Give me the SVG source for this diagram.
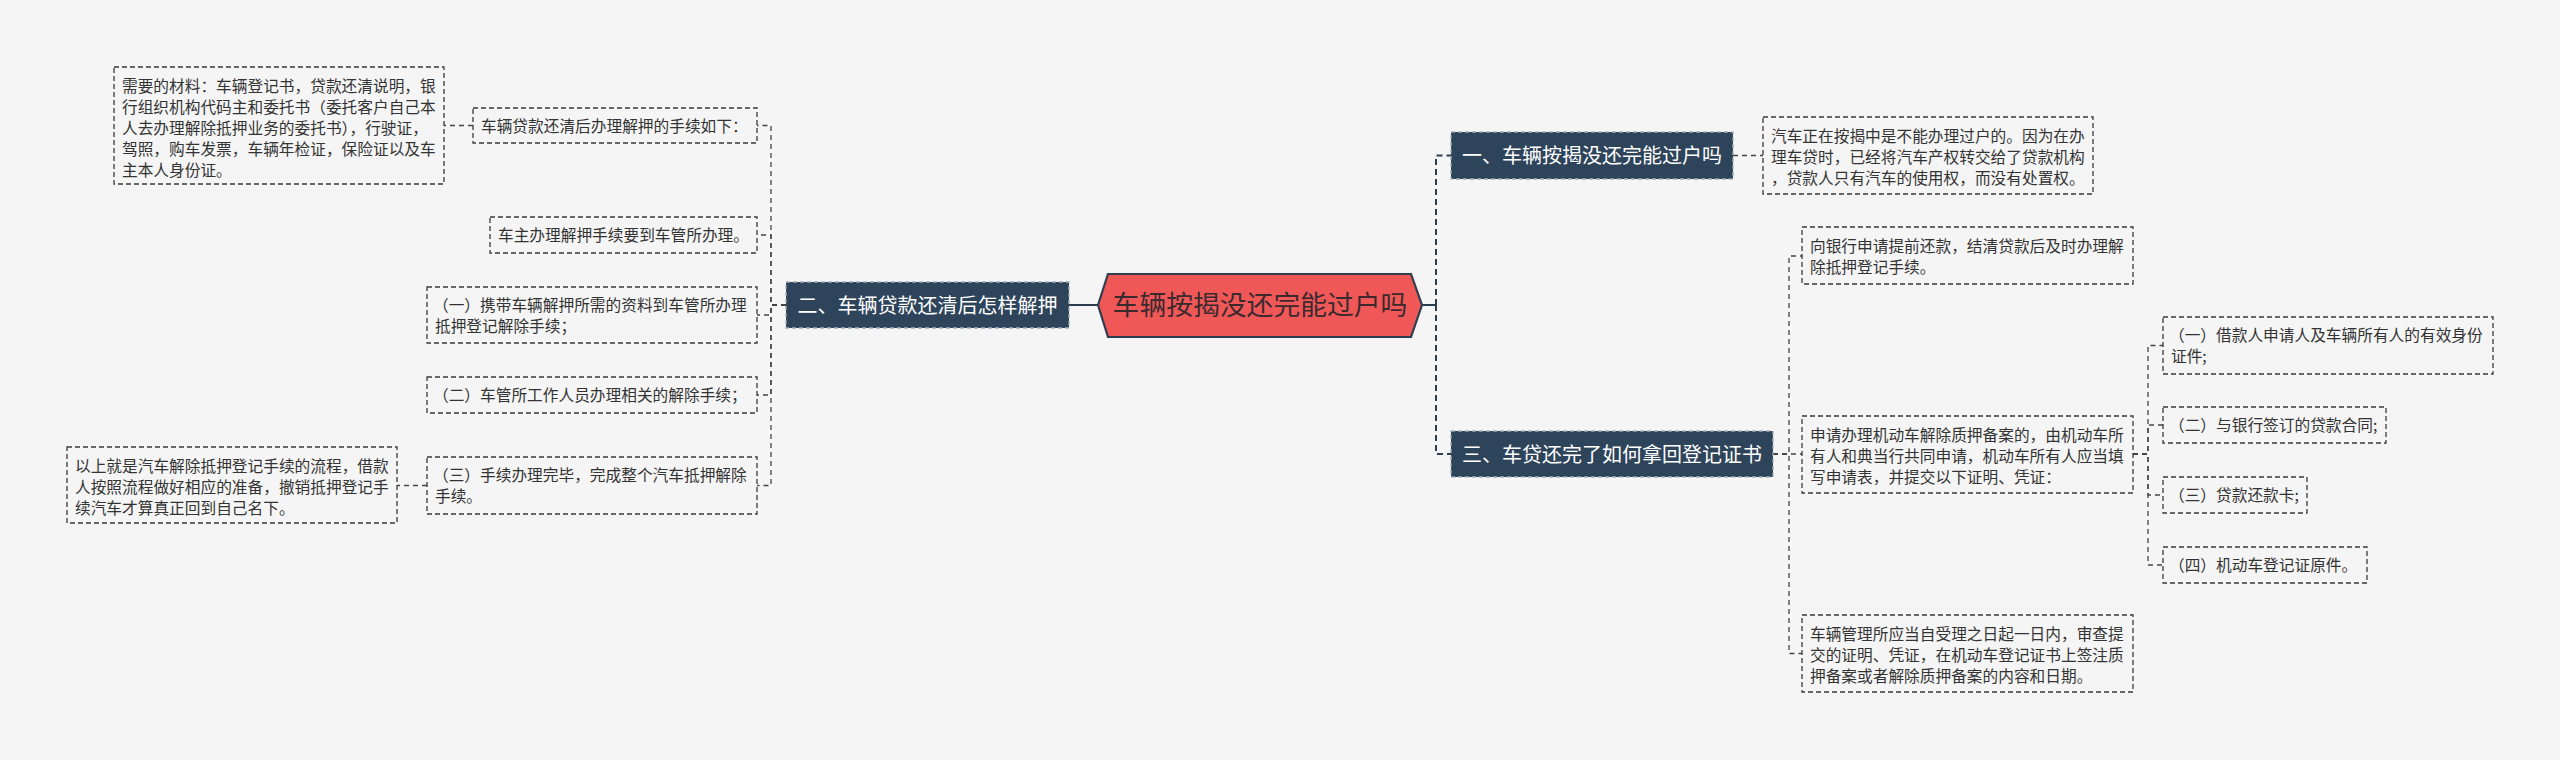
<svg xmlns="http://www.w3.org/2000/svg" width="2560" height="760" viewBox="0 0 2560 760">
<style>
.bg{fill:#f5f5f5}
.box{fill:#f5f5f5;stroke:#3a3a3a;stroke-width:1.3;stroke-dasharray:5,3}
.t{font-family:"Noto Sans CJK SC","Noto Sans",sans-serif;font-size:15.7px;fill:#333}
.l1{fill:#2e445b;stroke:#a3adb8;stroke-width:1.3;stroke-dasharray:4,3}
.l1t{font-family:"Noto Sans CJK SC","Noto Sans",sans-serif;font-size:20px;fill:#ffffff;text-anchor:middle}
.ct{font-family:"Noto Sans CJK SC","Noto Sans",sans-serif;font-size:26.8px;fill:#3a2a2e;text-anchor:middle}
.c2{fill:none;stroke:#444;stroke-width:1.3;stroke-dasharray:5,4}
.c1{fill:none;stroke:#2d3e50;stroke-width:2;stroke-dasharray:6,4}
.cs{fill:none;stroke:#2d3e50;stroke-width:2}
</style>
<rect class="bg" x="0" y="0" width="2560" height="760"/>
<g id="connectors">
  <line class="cs" x1="1069" y1="305" x2="1098" y2="305"/>
  <line class="cs" x1="1422" y1="305" x2="1436" y2="305"/>
  <path class="c1" d="M1436 305 V155.5 H1451"/>
  <path class="c1" d="M1436 305 V454 H1451"/>
  <path class="c2" d="M786 305 H771 V125.5 H757"/>
  <path class="c2" d="M786 305 H771 V235 H757"/>
  <path class="c2" d="M786 305 H771 V315 H757"/>
  <path class="c2" d="M786 305 H771 V395 H757"/>
  <path class="c2" d="M786 305 H771 V485.5 H757"/>
  <line class="c2" x1="473" y1="125.5" x2="444" y2="125.5"/>
  <line class="c2" x1="427" y1="485.5" x2="397" y2="485.5"/>
  <line class="c2" x1="1733" y1="155.5" x2="1763" y2="155.5"/>
  <path class="c2" d="M1773 454 H1789 V256 H1802"/>
  <path class="c2" d="M1773 454 H1802"/>
  <path class="c2" d="M1773 454 H1789 V653.5 H1802"/>
  <path class="c2" d="M2133 454 H2148 V345.5 H2163"/>
  <path class="c2" d="M2133 454 H2148 V425 H2163"/>
  <path class="c2" d="M2133 454 H2148 V495 H2163"/>
  <path class="c2" d="M2133 454 H2148 V565 H2163"/>
</g>
<g id="center">
  <polygon points="1098,305 1108,274 1411,274 1422,305 1411,337 1108,337" fill="#f05858" stroke="#2d3e50" stroke-width="2.2"/>
  <text class="ct" x="1260" y="315">车辆按揭没还完能过户吗</text>
</g>
<g id="n1">
  <rect class="l1" x="1451" y="132" width="282" height="47"/>
  <text class="l1t" x="1592" y="163">一、车辆按揭没还完能过户吗</text>
</g>
<g id="n2">
  <rect class="l1" x="786" y="282" width="283" height="46"/>
  <text class="l1t" x="927.5" y="312.5">二、车辆贷款还清后怎样解押</text>
</g>
<g id="n3">
  <rect class="l1" x="1451" y="431" width="322" height="46"/>
  <text class="l1t" x="1612" y="461.5">三、车贷还完了如何拿回登记证书</text>
</g>
<g id="n1a">
  <rect class="box" x="1763" y="117" width="330" height="77"/>
  <text class="t" x="1771" y="142">汽车正在按揭中是不能办理过户的。因为在办</text>
  <text class="t" x="1771" y="163">理车贷时，已经将汽车产权转交给了贷款机构</text>
  <text class="t" x="1771" y="184">，贷款人只有汽车的使用权，而没有处置权。</text>
</g>
<g id="n2a">
  <rect class="box" x="473" y="108" width="284" height="35"/>
  <text class="t" x="481" y="131.5">车辆贷款还清后办理解押的手续如下：</text>
</g>
<g id="n2a1">
  <rect class="box" x="114" y="67" width="330" height="117"/>
  <text class="t" x="122" y="92">需要的材料：车辆登记书，贷款还清说明，银</text>
  <text class="t" x="122" y="113">行组织机构代码主和委托书（委托客户自己本</text>
  <text class="t" x="122" y="134">人去办理解除抵押业务的委托书），行驶证，</text>
  <text class="t" x="122" y="155">驾照，购车发票，车辆年检证，保险证以及车</text>
  <text class="t" x="122" y="176">主本人身份证。</text>
</g>
<g id="n2b">
  <rect class="box" x="490" y="217" width="267" height="36"/>
  <text class="t" x="498" y="241">车主办理解押手续要到车管所办理。</text>
</g>
<g id="n2c">
  <rect class="box" x="427" y="287" width="330" height="56"/>
  <text class="t" x="433" y="311">（一）携带车辆解押所需的资料到车管所办理</text>
  <text class="t" x="435" y="332">抵押登记解除手续；</text>
</g>
<g id="n2d">
  <rect class="box" x="427" y="377" width="330" height="36"/>
  <text class="t" x="433" y="401">（二）车管所工作人员办理相关的解除手续；</text>
</g>
<g id="n2e">
  <rect class="box" x="427" y="457" width="330" height="57"/>
  <text class="t" x="433" y="481">（三）手续办理完毕，完成整个汽车抵押解除</text>
  <text class="t" x="435" y="502">手续。</text>
</g>
<g id="n2e1">
  <rect class="box" x="67" y="447" width="330" height="76"/>
  <text class="t" x="75" y="472">以上就是汽车解除抵押登记手续的流程，借款</text>
  <text class="t" x="75" y="493">人按照流程做好相应的准备，撤销抵押登记手</text>
  <text class="t" x="75" y="514">续汽车才算真正回到自己名下。</text>
</g>
<g id="n3a">
  <rect class="box" x="1802" y="227" width="331" height="57"/>
  <text class="t" x="1810" y="252">向银行申请提前还款，结清贷款后及时办理解</text>
  <text class="t" x="1810" y="273">除抵押登记手续。</text>
</g>
<g id="n3b">
  <rect class="box" x="1802" y="416" width="331" height="77"/>
  <text class="t" x="1810" y="441">申请办理机动车解除质押备案的，由机动车所</text>
  <text class="t" x="1810" y="462">有人和典当行共同申请，机动车所有人应当填</text>
  <text class="t" x="1810" y="483">写申请表，并提交以下证明、凭证：</text>
</g>
<g id="n3c">
  <rect class="box" x="1802" y="615" width="331" height="77"/>
  <text class="t" x="1810" y="640">车辆管理所应当自受理之日起一日内，审查提</text>
  <text class="t" x="1810" y="661">交的证明、凭证，在机动车登记证书上签注质</text>
  <text class="t" x="1810" y="682">押备案或者解除质押备案的内容和日期。</text>
</g>
<g id="n3b1">
  <rect class="box" x="2163" y="317" width="330" height="57"/>
  <text class="t" x="2169" y="341">（一）借款人申请人及车辆所有人的有效身份</text>
  <text class="t" x="2171" y="362">证件;</text>
</g>
<g id="n3b2">
  <rect class="box" x="2163" y="407" width="223" height="36"/>
  <text class="t" x="2169" y="431">（二）与银行签订的贷款合同;</text>
</g>
<g id="n3b3">
  <rect class="box" x="2163" y="477" width="144" height="36"/>
  <text class="t" x="2169" y="501">（三）贷款还款卡;</text>
</g>
<g id="n3b4">
  <rect class="box" x="2163" y="547" width="204" height="36"/>
  <text class="t" x="2169" y="571">（四）机动车登记证原件。</text>
</g>
</svg>
